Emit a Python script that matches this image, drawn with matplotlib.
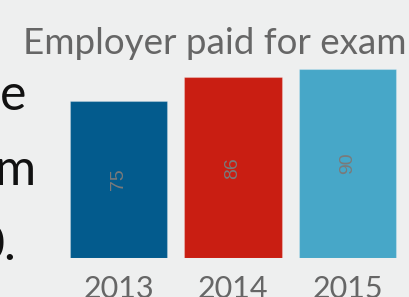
import matplotlib
matplotlib.use("Agg")
import matplotlib.pyplot as plt

# ---- data ----
years = ["2013", "2014", "2015"]
values = [75, 86, 90]
bar_colors = ["#035b8d", "#c91e12", "#47a7c8"]
side_text = ["e", "m", "0."]

W, H = 410, 297
fig = plt.figure(figsize=(W / 100, H / 100), dpi=100)
fig.patch.set_facecolor("#eeefef")

# axes placed in pixel terms: baseline at y=258, 2.1 px per unit
left, right = 61.25, 404.75
bottom, top = 258, 48
ax = fig.add_axes([left / W, 1 - bottom / H, (right - left) / W, (bottom - top) / H])
ax.set_facecolor("#eeefef")

x = range(len(years))
bars = ax.bar(x, values, width=0.85, color=bar_colors,
              edgecolor=(1, 1, 1, 0.25), linewidth=0.8)
for b, v in zip(bars, values):
    ax.text(b.get_x() + b.get_width() / 2, v / 2, str(v), rotation=90,
            ha="center", va="center", color="#7a7a7a", fontsize=14,
            family="Liberation Sans")

ax.set_xlim(-0.5, 2.5)
ax.set_ylim(0, 100)
ax.set_xticks(list(x))
ax.set_xticklabels(years, family="Lato", fontsize=22, color="#666666")
ax.tick_params(length=0, pad=12)
ax.set_yticks([])
for s in ax.spines.values():
    s.set_visible(False)

fig.text(215 / W, 1 - 54 / H, "Employer paid for exam", ha="center", va="baseline",
         family="Lato", fontsize=26.5, color="#666666")

# cut-off paragraph text on the left
for i, t in enumerate(side_text):
    fig.text([26, 36, 16][i] / W, 1 - [110, 185, 260][i] / H, t, ha="right",
             va="baseline", family="Lato", fontsize=36, color="#111111")

fig.savefig("out.png", dpi=100, facecolor=fig.get_facecolor())
